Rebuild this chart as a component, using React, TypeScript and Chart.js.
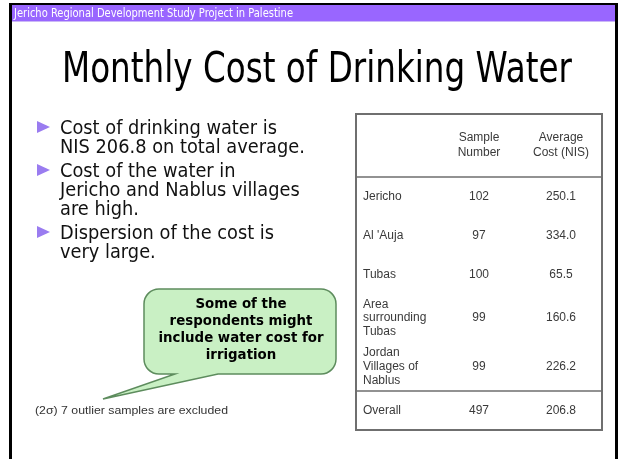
import React, { useEffect, useRef } from "react";
import { Chart, registerables } from "chart.js";

Chart.register(...registerables);

// ---------- data ----------
const headerText = "Jericho Regional Development Study Project in Palestine";
const titleText = "Monthly Cost of Drinking Water";
const bullets: string[][] = [
  ["Cost of drinking water is", "NIS 206.8 on total average."],
  ["Cost of the water in", "Jericho and Nablus villages", "are high."],
  ["Dispersion of the cost is", "very large."],
];
const calloutLines = ["Some of the", "respondents might", "include water cost for", "irrigation"];
const footnote = "(2σ) 7 outlier samples are excluded";

const columnLabels: string[][] = [[""], ["Sample", "Number"], ["Average", "Cost (NIS)"]];
const rowLabels: string[][] = [
  ["Jericho"],
  ["Al 'Auja"],
  ["Tubas"],
  ["Area", "surrounding", "Tubas"],
  ["Jordan", "Villages of", "Nablus"],
  ["Overall"],
];
const sampleNumbers = [102, 97, 100, 99, 99, 497];
const averageCosts = [250.1, 334.0, 65.5, 160.6, 226.2, 206.8];

// ---------- derived row geometry (in row units) ----------
const rowWeights = rowLabels.map((l) => 1 + (l.length - 1) * 0.125);
const rowStarts: number[] = [];
const totalWeight = rowWeights.reduce((acc, w) => {
  rowStarts.push(acc);
  return acc + w;
}, 0);
const rowCenters = rowStarts.map((s, i) => s + rowWeights[i] / 2);
const columnCenters = columnLabels.map((_, i) => i + 0.5);

function drawScaled(ctx: CanvasRenderingContext2D, text: string, x: number, y: number, sx: number, align: CanvasTextAlign) {
  ctx.save();
  ctx.translate(x, y);
  ctx.scale(sx, 1);
  ctx.textAlign = align;
  ctx.fillText(text, 0, 0);
  ctx.restore();
}

const slidePlugin = {
  id: "slide",
  beforeDraw(chart: any) {
    const ctx: CanvasRenderingContext2D = chart.ctx;
    const H = chart.height;
    ctx.save();
    ctx.fillStyle = "#ffffff";
    ctx.fillRect(0, 0, chart.width, H);

    // slide frame
    ctx.fillStyle = "#000000";
    ctx.fillRect(9, 3, 3, H);
    ctx.fillRect(615, 3, 3, H);
    ctx.fillRect(9, 3, 609, 2);

    // header bar
    ctx.fillStyle = "#9966ff";
    ctx.fillRect(12, 5, 603, 16);
    ctx.fillStyle = "#cbb8f6";
    ctx.fillRect(12, 21, 603, 1);

    ctx.textBaseline = "alphabetic";
    ctx.fillStyle = "#ffffff";
    ctx.font = '11.5px "DejaVu Sans"';
    let s = 279 / ctx.measureText(headerText).width;
    drawScaled(ctx, headerText, 14, 17, s, "left");

    // title
    ctx.fillStyle = "#000000";
    ctx.font = '42px "DejaVu Sans"';
    s = 510 / ctx.measureText(titleText).width;
    drawScaled(ctx, titleText, 62, 82, s, "left");

    // bullets
    ctx.font = '19.5px "DejaVu Sans"';
    const bs = 217 / ctx.measureText(bullets[0][0]).width;
    let y = 134;
    bullets.forEach((lines) => {
      ctx.fillStyle = "#9a7cf0";
      ctx.beginPath();
      ctx.moveTo(37, y - 13);
      ctx.lineTo(50, y - 7);
      ctx.lineTo(37, y - 1);
      ctx.closePath();
      ctx.fill();
      ctx.fillStyle = "#111111";
      lines.forEach((line, j) => {
        drawScaled(ctx, line, 60, y + j * 19, bs, "left");
      });
      y += lines.length * 19 + 5;
    });

    // callout
    const L = 144, R = 336, T = 289, B = 374, r = 15;
    ctx.beginPath();
    ctx.moveTo(L + r, T);
    ctx.lineTo(R - r, T);
    ctx.arcTo(R, T, R, T + r, r);
    ctx.lineTo(R, B - r);
    ctx.arcTo(R, B, R - r, B, r);
    ctx.lineTo(218, B);
    ctx.lineTo(103, 399);
    ctx.lineTo(175, B);
    ctx.lineTo(L + r, B);
    ctx.arcTo(L, B, L, B - r, r);
    ctx.lineTo(L, T + r);
    ctx.arcTo(L, T, L + r, T, r);
    ctx.closePath();
    ctx.fillStyle = "#c9f0c4";
    ctx.fill();
    ctx.strokeStyle = "#5d8c5d";
    ctx.lineWidth = 1.5;
    ctx.stroke();

    ctx.fillStyle = "#000000";
    ctx.font = 'bold 14px "DejaVu Sans"';
    const cs = 165 / ctx.measureText(calloutLines[2]).width;
    calloutLines.forEach((line, i) => {
      drawScaled(ctx, line, 241, 308 + i * 17, cs, "center");
    });

    // footnote
    ctx.fillStyle = "#333333";
    ctx.font = '10.5px "Liberation Sans"';
    s = 193 / ctx.measureText(footnote).width;
    drawScaled(ctx, footnote, 35, 414, s, "left");
    ctx.restore();
  },
};

const tablePlugin = {
  id: "tableFrame",
  afterDatasetsDraw(chart: any) {
    const ctx: CanvasRenderingContext2D = chart.ctx;
    const { left, right, top, bottom } = chart.chartArea;
    const xs = chart.scales.x;
    const ys = chart.scales.y;
    ctx.save();
    // values
    ctx.fillStyle = "#3a3a3a";
    ctx.font = '12px "Liberation Sans"';
    ctx.textAlign = "center";
    ctx.textBaseline = "middle";
    chart.data.datasets.forEach((ds: any, di: number) => {
      const meta = chart.getDatasetMeta(di);
      meta.data.forEach((el: any, i: number) => {
        const v = ds.values[i];
        const txt = di === 0 ? String(v) : v.toFixed(1);
        ctx.fillText(txt, el.x, el.y);
      });
    });
    // frame
    ctx.strokeStyle = "#6f6f6f";
    ctx.lineWidth = 2;
    ctx.strokeRect(left, xs.top, right - left, bottom - xs.top);
    ctx.lineWidth = 1.5;
    ctx.beginPath();
    ctx.moveTo(left, top);
    ctx.lineTo(right, top);
    const sepY = ys.getPixelForValue(rowStarts[rowStarts.length - 1]);
    ctx.moveTo(left, sepY);
    ctx.lineTo(right, sepY);
    ctx.stroke();
    ctx.restore();
  },
};

export default function App() {
  const ref = useRef<HTMLCanvasElement | null>(null);
  useEffect(() => {
    document.body.style.margin = "0";
    if (!ref.current) return;
    const chart = new Chart(ref.current, {
      type: "scatter",
      data: {
        datasets: [
          {
            label: "Sample Number",
            data: sampleNumbers.map((_, i) => ({ x: columnCenters[1], y: rowCenters[i] })),
            values: sampleNumbers,
            pointRadius: 0,
          } as any,
          {
            label: "Average Cost (NIS)",
            data: averageCosts.map((_, i) => ({ x: columnCenters[2], y: rowCenters[i] })),
            values: averageCosts,
            pointRadius: 0,
          } as any,
        ],
      },
      options: {
        responsive: false,
        animation: false,
        layout: { padding: { left: 342, right: 18, top: 114, bottom: 29 } },
        plugins: { legend: { display: false }, tooltip: { enabled: false } },
        scales: {
          x: {
            type: "linear",
            position: "top",
            min: 0,
            max: columnLabels.length,
            grid: { display: false, drawTicks: false },
            border: { display: false },
            afterBuildTicks: (axis: any) => {
              axis.ticks = columnCenters.map((v) => ({ value: v }));
            },
            ticks: {
              autoSkip: false,
              maxRotation: 0,
              padding: 16.5,
              color: "#3a3a3a",
              font: { family: "Liberation Sans", size: 12, lineHeight: 1.25 },
              callback: (_v: any, i: number) => columnLabels[i],
            },
          },
          y: {
            type: "linear",
            reverse: true,
            min: 0,
            max: totalWeight,
            grid: { display: false, drawTicks: false },
            border: { display: false },
            afterBuildTicks: (axis: any) => {
              axis.ticks = rowCenters.map((v) => ({ value: v }));
            },
            ticks: {
              mirror: true,
              autoSkip: false,
              padding: 7,
              color: "#3a3a3a",
              font: { family: "Liberation Sans", size: 12, lineHeight: 1.15 },
              callback: (_v: any, i: number) => rowLabels[i],
            },
          },
        },
      } as any,
      plugins: [slidePlugin, tablePlugin],
    });
    return () => chart.destroy();
  }, []);
  return (
    <div style={{ position: "absolute", left: 0, top: 0, width: 620, height: 459 }}>
      <canvas ref={ref} width={620} height={459} style={{ display: "block" }} />
    </div>
  );
}
